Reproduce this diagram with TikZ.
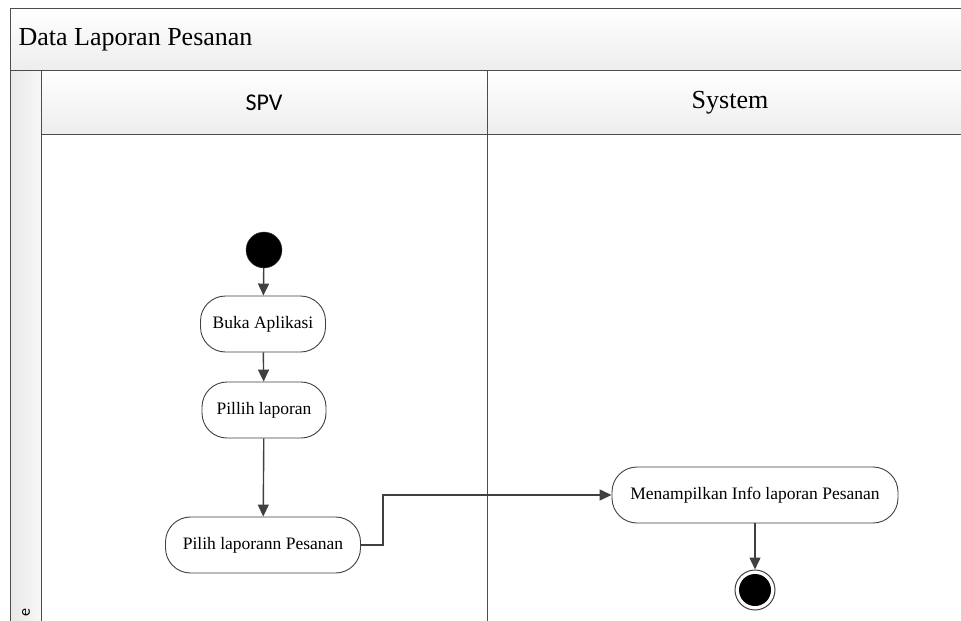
\documentclass[tikz,border=0pt]{standalone}
\usepackage{fontspec}
\setmainfont{Liberation Serif}
\newfontfamily\lanefont{Carlito}
\usetikzlibrary{positioning,arrows.meta}

\tikzset{
  act/.style={draw=black!75, line width=0.9pt, fill=white, rounded corners=25pt,
    minimum height=56pt, inner xsep=10pt, font=\fontsize{17.5}{20}\selectfont},
  flow/.style={draw=black!75, line width=1.4pt, -{Triangle[length=12pt,width=11pt]}},
  lane/.style={draw=black!70, line width=1pt},
  hdr/.style={lane, top color=white, bottom color=black!7}
}

\begin{document}
\begin{tikzpicture}[x=1pt,y=-1pt]
  \useasboundingbox (0,0) rectangle (961,621);
  % frame, title band and lanes
  \fill[white] (10,8) rectangle (975,640);
  \draw[hdr] (10,8) rectangle (975,70);
  \draw[lane, left color=black!9, right color=black!3] (10,70) rectangle (41,640);
  \draw[hdr] (41,70) rectangle (975,134);
  \draw[lane] (487,70) -- (487,640);
  \node[anchor=west, font=\fontsize{26}{30}\selectfont] (title) at (15,40) {Data Laporan Pesanan};
  \node[font=\lanefont\fontsize{24}{28}\selectfont] (spv) at (264,103) {SPV};
  \node[font=\fontsize{26}{30}\selectfont] (sys) at (730,103) {System};
  \node[rotate=90, font=\lanefont\fontsize{16}{18}\selectfont] (pool) at (26,613) {e};

  % activities
  \node[circle, fill=black, draw=black!75, minimum size=36pt, inner sep=0pt] (start) at (264,250) {};
  \node[act, minimum width=125pt] (buka) at (263,324) {Buka Aplikasi};
  \node[act, minimum width=124pt] (pilih) at (264,410) {Pillih laporan};
  \node[act, minimum width=195pt] (psn) at (263,545) {Pilih laporann Pesanan};
  \node[act, minimum width=286pt] (info) at (755,495) {Menampilkan Info laporan Pesanan};
  \node[circle, draw=black!75, line width=1pt, fill=white, minimum size=40pt, inner sep=0pt] (stop) at (755,590) {};
  \node[circle, fill=black, minimum size=32pt, inner sep=0pt] (stopin) at (stop) {};

  \draw[flow] (start) -- (buka);
  \draw[flow] (buka) -- (pilih);
  \draw[flow] (pilih) -- (psn);
  \draw[flow] (psn.east) -- ++(22,0) |- (info.west);
  \draw[flow] (info) -- (stop);
\end{tikzpicture}
\end{document}
